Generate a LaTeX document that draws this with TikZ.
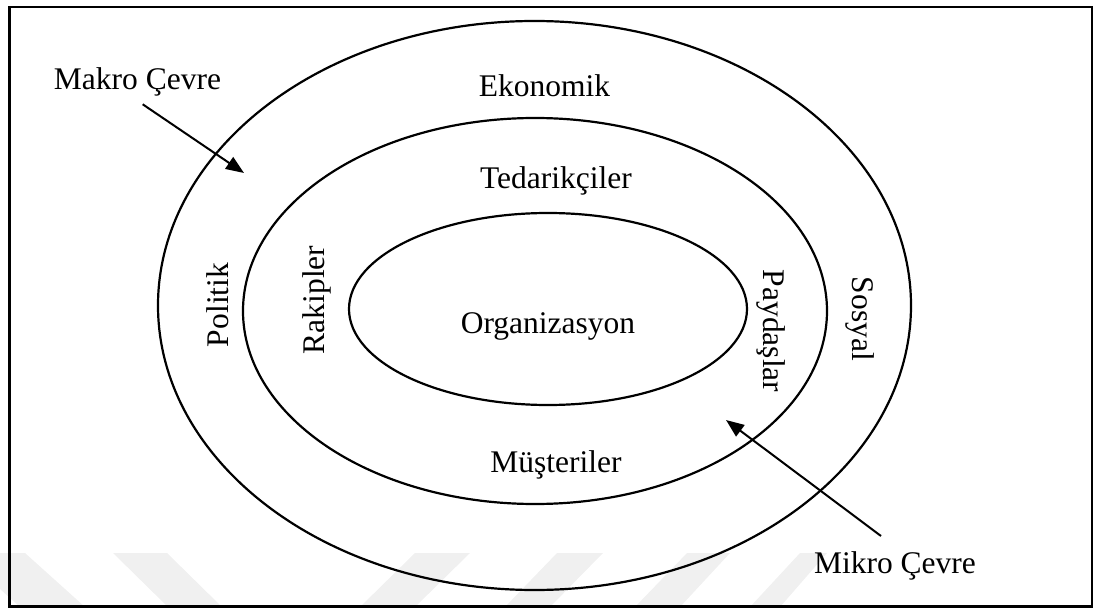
\documentclass[tikz,border=0pt]{standalone}
\usepackage{fontspec}
\setmainfont{Liberation Serif}
\usetikzlibrary{arrows.meta}
\begin{document}
\begin{tikzpicture}[x=1pt,y=-1pt,
  ring/.style={draw=black, line width=2.2pt},
  lbl/.style={font=\fontsize{31.5}{36}\selectfont, inner sep=0pt},
  pointer/.style={line width=2pt, -{Triangle[length=18pt,width=14pt]}},
  wmark/.style={fill=black!6, draw=none}]
\useasboundingbox (0,0) rectangle (1096,610);

% faint chevron band along the bottom edge
\begin{scope}
  \clip (0,540) rectangle (1096,607);
  \fill[wmark] (-40,553) -- (25,553) -- (85,607) -- (20,607) -- cycle;
  \fill[wmark] (113,553) -- (167,553) -- (222,607) -- (168,607) -- cycle;
  \fill[wmark] (415,553) -- (470,553) -- (415,607) -- (360,607) -- cycle;
  \fill[wmark] (557,553) -- (603,553) -- (550,607) -- (505,607) -- cycle;
  \fill[wmark] (687,553) -- (730,553) -- (680,607) -- (635,607) -- cycle;
  \fill[wmark] (800,553) -- (827,553) -- (780,607) -- (750,607) -- cycle;
\end{scope}

% outer frame
\draw[line width=2.5pt] (9.5,7) rectangle (1092,606.5);

% nested environment rings
\draw[ring] (534.5,305.5) ellipse [x radius=376.5pt, y radius=284.5pt];
\draw[ring] (535,311) ellipse [x radius=292pt, y radius=193pt];
\draw[ring] (548,309) ellipse [x radius=199pt, y radius=96pt];

% ring labels
\node[lbl, anchor=base] (ekonomik) at (544.5,96.7) {Ekonomik};
\node[lbl, anchor=base] (tedarik) at (556,188) {Tedarikçiler};
\node[lbl, anchor=base] (org) at (548,333) {Organizasyon};
\node[lbl, anchor=base] (musteri) at (556,472.7) {Müşteriler};
\node[lbl, rotate=90] (politik) at (217.5,305) {Politik};
\node[lbl, rotate=90] (rakip) at (316.5,300) {Rakipler};
\node[lbl, rotate=-90] (paydas) at (771,331) {Paydaşlar};
\node[lbl, rotate=-90] (sosyal) at (860,319) {Sosyal};

% callouts
\node[lbl, anchor=base] (makro) at (137.5,89) {Makro Çevre};
\node[lbl, anchor=base] (mikro) at (895,573) {Mikro Çevre};
\coordinate (makroTail) at (142.7,104.3);
\coordinate (makroTip) at (244,173);
\coordinate (mikroTail) at (881,536);
\coordinate (mikroTip) at (726,420);
\draw[pointer] (makroTail) -- (makroTip);
\draw[pointer] (mikroTail) -- (mikroTip);
\end{tikzpicture}
\end{document}
